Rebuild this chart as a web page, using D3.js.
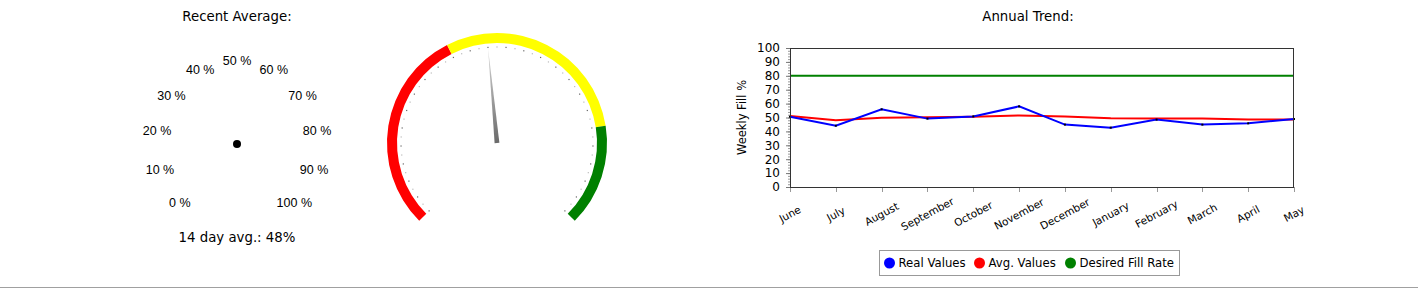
<!DOCTYPE html>
<html>
<head>
<meta charset="utf-8">
<script src="https://cdn.jsdelivr.net/npm/d3@7"></script>
<style>
  body { margin: 0; background: #fff; }
  svg { display: block; }
  text { font-family: "DejaVu Sans", Verdana, sans-serif; fill: #000; }
</style>
</head>
<body>
<div id="chart"></div>
<script>
// gauge data
const gaugeValue = 48;
const gaugeLabels = [0, 10, 20, 30, 40, 50, 60, 70, 80, 90, 100];
const bandStops = [0, 40, 80, 100];
const bandColors = ['#ff0000', '#ffff00', '#008000'];

// trend data
const months = ['June', 'July', 'August', 'September', 'October', 'November', 'December', 'January', 'February', 'March', 'April', 'May'];
const realValues = [50.6, 44.1, 55.9, 49.2, 50.8, 58.0, 44.9, 42.7, 48.5, 44.9, 45.8, 48.9];
const avgValues = [51.0, 48.0, 49.9, 50.1, 50.5, 51.5, 50.8, 49.4, 49.2, 49.2, 48.5, 48.5];
const desiredRate = 80;
const yTicks = [0, 10, 20, 30, 40, 50, 60, 70, 80, 90, 100];
const legendItems = ['Real Values', 'Avg. Values', 'Desired Fill Rate'];
const legendColors = ['#0000ff', '#ff0000', '#008000'];

const W = 1418, H = 289;
const svg = d3.select('#chart').append('svg').attr('width', W).attr('height', H);

// ---------- left panel: recent average ----------
svg.append('text').attr('x', 237).attr('y', 21).attr('text-anchor', 'middle')
    .style('font-size', '13.3px').text('Recent Average:');

const angle = d3.scaleLinear().domain([0, 100]).range([-135, 135]);
const rad = d => angle(d) * Math.PI / 180;

// the scale labels sit off to the left, around a lone dot
const lab = svg.append('g').attr('transform', 'translate(237,144)');
lab.append('circle').attr('r', 4).attr('fill', '#000');
lab.selectAll('.glab')
    .data(gaugeLabels)
    .enter()
    .append('text')
    .attr('class', 'glab')
    .attr('x', d => 81 * Math.sin(rad(d)))
    .attr('y', d => -83 * Math.cos(rad(d)))
    .attr('dy', '0.35em')
    .attr('text-anchor', 'middle')
    .style('font-family', '"Liberation Sans", Arial, sans-serif')
    .style('font-size', '12.5px')
    .text(d => d + ' %');

svg.append('text').attr('x', 237).attr('y', 242).attr('text-anchor', 'middle')
    .style('font-size', '13.3px').text('14 day avg.: ' + gaugeValue + '%');

// gauge dial
const g = svg.append('g').attr('transform', 'translate(497,143)');

const arc = d3.arc().innerRadius(100).outerRadius(110);
bandColors.forEach((c, i) => {
    g.append('path')
        .attr('d', arc({startAngle: rad(bandStops[i]), endAngle: rad(bandStops[i + 1])}))
        .attr('fill', c);
});

// dotted minor ticks
g.selectAll('.dot')
    .data(d3.range(0, 101, 2))
    .enter()
    .append('rect')
    .attr('class', 'dot')
    .attr('x', d => 96 * Math.sin(rad(d)) - 0.6)
    .attr('y', d => -96 * Math.cos(rad(d)) - 0.6)
    .attr('width', 1.2)
    .attr('height', 1.2)
    .attr('fill', (d, i) => i % 2 ? '#bbb' : '#666');

// needle
const tipR = 95;
const a = rad(gaugeValue);
const tip = [tipR * Math.sin(a), -tipR * Math.cos(a)];
const px = Math.cos(a) * 2.4, py = Math.sin(a) * 2.4;

const grad = svg.append('defs').append('linearGradient')
    .attr('id', 'needleGrad')
    .attr('gradientUnits', 'userSpaceOnUse')
    .attr('x1', tip[0]).attr('y1', tip[1])
    .attr('x2', 0).attr('y2', 0);
grad.append('stop').attr('offset', '0%').attr('stop-color', '#d8d8d8');
grad.append('stop').attr('offset', '100%').attr('stop-color', '#6a6a6a');

g.append('path')
    .attr('d', `M${tip[0]},${tip[1]} L${px},${py} L${-px},${-py} Z`)
    .attr('fill', 'url(#needleGrad)');

// ---------- right panel: annual trend ----------
svg.append('text').attr('x', 1028).attr('y', 21).attr('text-anchor', 'middle')
    .style('font-size', '13.3px').text('Annual Trend:');

const plot = {left: 790, right: 1294, top: 48, bottom: 187};
const x = d3.scalePoint().domain(months).range([plot.left, plot.right]);
const y = d3.scaleLinear().domain([0, 100]).range([plot.bottom, plot.top]);

const chart = svg.append('g');

// y axis minor + major ticks
chart.selectAll('.ymin')
    .data(d3.range(0, 101, 2))
    .enter()
    .append('line')
    .attr('x1', plot.left - 2).attr('x2', plot.left)
    .attr('y1', d => y(d) + 0.5).attr('y2', d => y(d) + 0.5)
    .attr('stroke', '#999');
chart.selectAll('.ymaj')
    .data(yTicks)
    .enter()
    .append('line')
    .attr('x1', plot.left - 4).attr('x2', plot.left)
    .attr('y1', d => y(d) + 0.5).attr('y2', d => y(d) + 0.5)
    .attr('stroke', '#777');
chart.selectAll('.ylab')
    .data(yTicks)
    .enter()
    .append('text')
    .attr('x', plot.left - 10)
    .attr('y', d => y(d))
    .attr('dy', '0.36em')
    .attr('text-anchor', 'end')
    .style('font-size', '12px')
    .text(d => d);

chart.append('text')
    .attr('transform', `translate(746,${(plot.top + plot.bottom) / 2}) rotate(-90)`)
    .attr('text-anchor', 'middle')
    .style('font-size', '11.5px')
    .text('Weekly Fill %');

// x ticks + labels
chart.selectAll('.xtick')
    .data(months)
    .enter()
    .append('line')
    .attr('x1', d => Math.round(x(d)) + 0.5).attr('x2', d => Math.round(x(d)) + 0.5)
    .attr('y1', plot.bottom).attr('y2', plot.bottom + 5)
    .attr('stroke', '#999');
chart.selectAll('.xlab')
    .data(months)
    .enter()
    .append('text')
    .attr('transform', d => `translate(${x(d)},214) rotate(-28)`)
    .attr('text-anchor', 'middle')
    .attr('dy', '0.35em')
    .style('font-size', '10.5px')
    .text(d => d);

// lines
const line = d3.line().x((d, i) => x(months[i])).y(d => y(d));

chart.append('path')
    .datum(months.map(() => desiredRate))
    .attr('d', line)
    .attr('fill', 'none')
    .attr('stroke', '#008000')
    .attr('stroke-width', 2);

chart.append('path')
    .datum(avgValues)
    .attr('d', line)
    .attr('fill', 'none')
    .attr('stroke', '#ff0000')
    .attr('stroke-width', 2);

chart.append('path')
    .datum(realValues)
    .attr('d', line)
    .attr('fill', 'none')
    .attr('stroke', '#0000ff')
    .attr('stroke-width', 2);

chart.selectAll('.pt')
    .data(realValues)
    .enter()
    .append('rect')
    .attr('class', 'pt')
    .attr('x', (d, i) => x(months[i]) - 1)
    .attr('y', d => y(d) - 1)
    .attr('width', 2).attr('height', 2)
    .attr('fill', '#000');

// plot frame
chart.append('rect')
    .attr('x', plot.left + 0.5).attr('y', plot.top + 0.5)
    .attr('width', plot.right - plot.left - 1).attr('height', plot.bottom - plot.top)
    .attr('fill', 'none')
    .attr('stroke', '#333');

// legend
const legend = svg.append('g').attr('transform', 'translate(879.5,250.5)');
legend.append('rect').attr('width', 300).attr('height', 25)
    .attr('fill', '#fff').attr('stroke', '#999');
const legendX = [5, 95, 186];
legendItems.forEach((label, i) => {
    legend.append('circle').attr('cx', legendX[i] + 5).attr('cy', 12.5).attr('r', 5.5).attr('fill', legendColors[i]);
    legend.append('text').attr('x', legendX[i] + 14).attr('y', 12.5).attr('dy', '0.35em')
        .style('font-size', '11.7px').text(label);
});

// bottom rule
svg.append('line').attr('x1', 0).attr('x2', W).attr('y1', 287.5).attr('y2', 287.5)
    .attr('stroke', '#a0a0a0');
</script>
</body>
</html>
